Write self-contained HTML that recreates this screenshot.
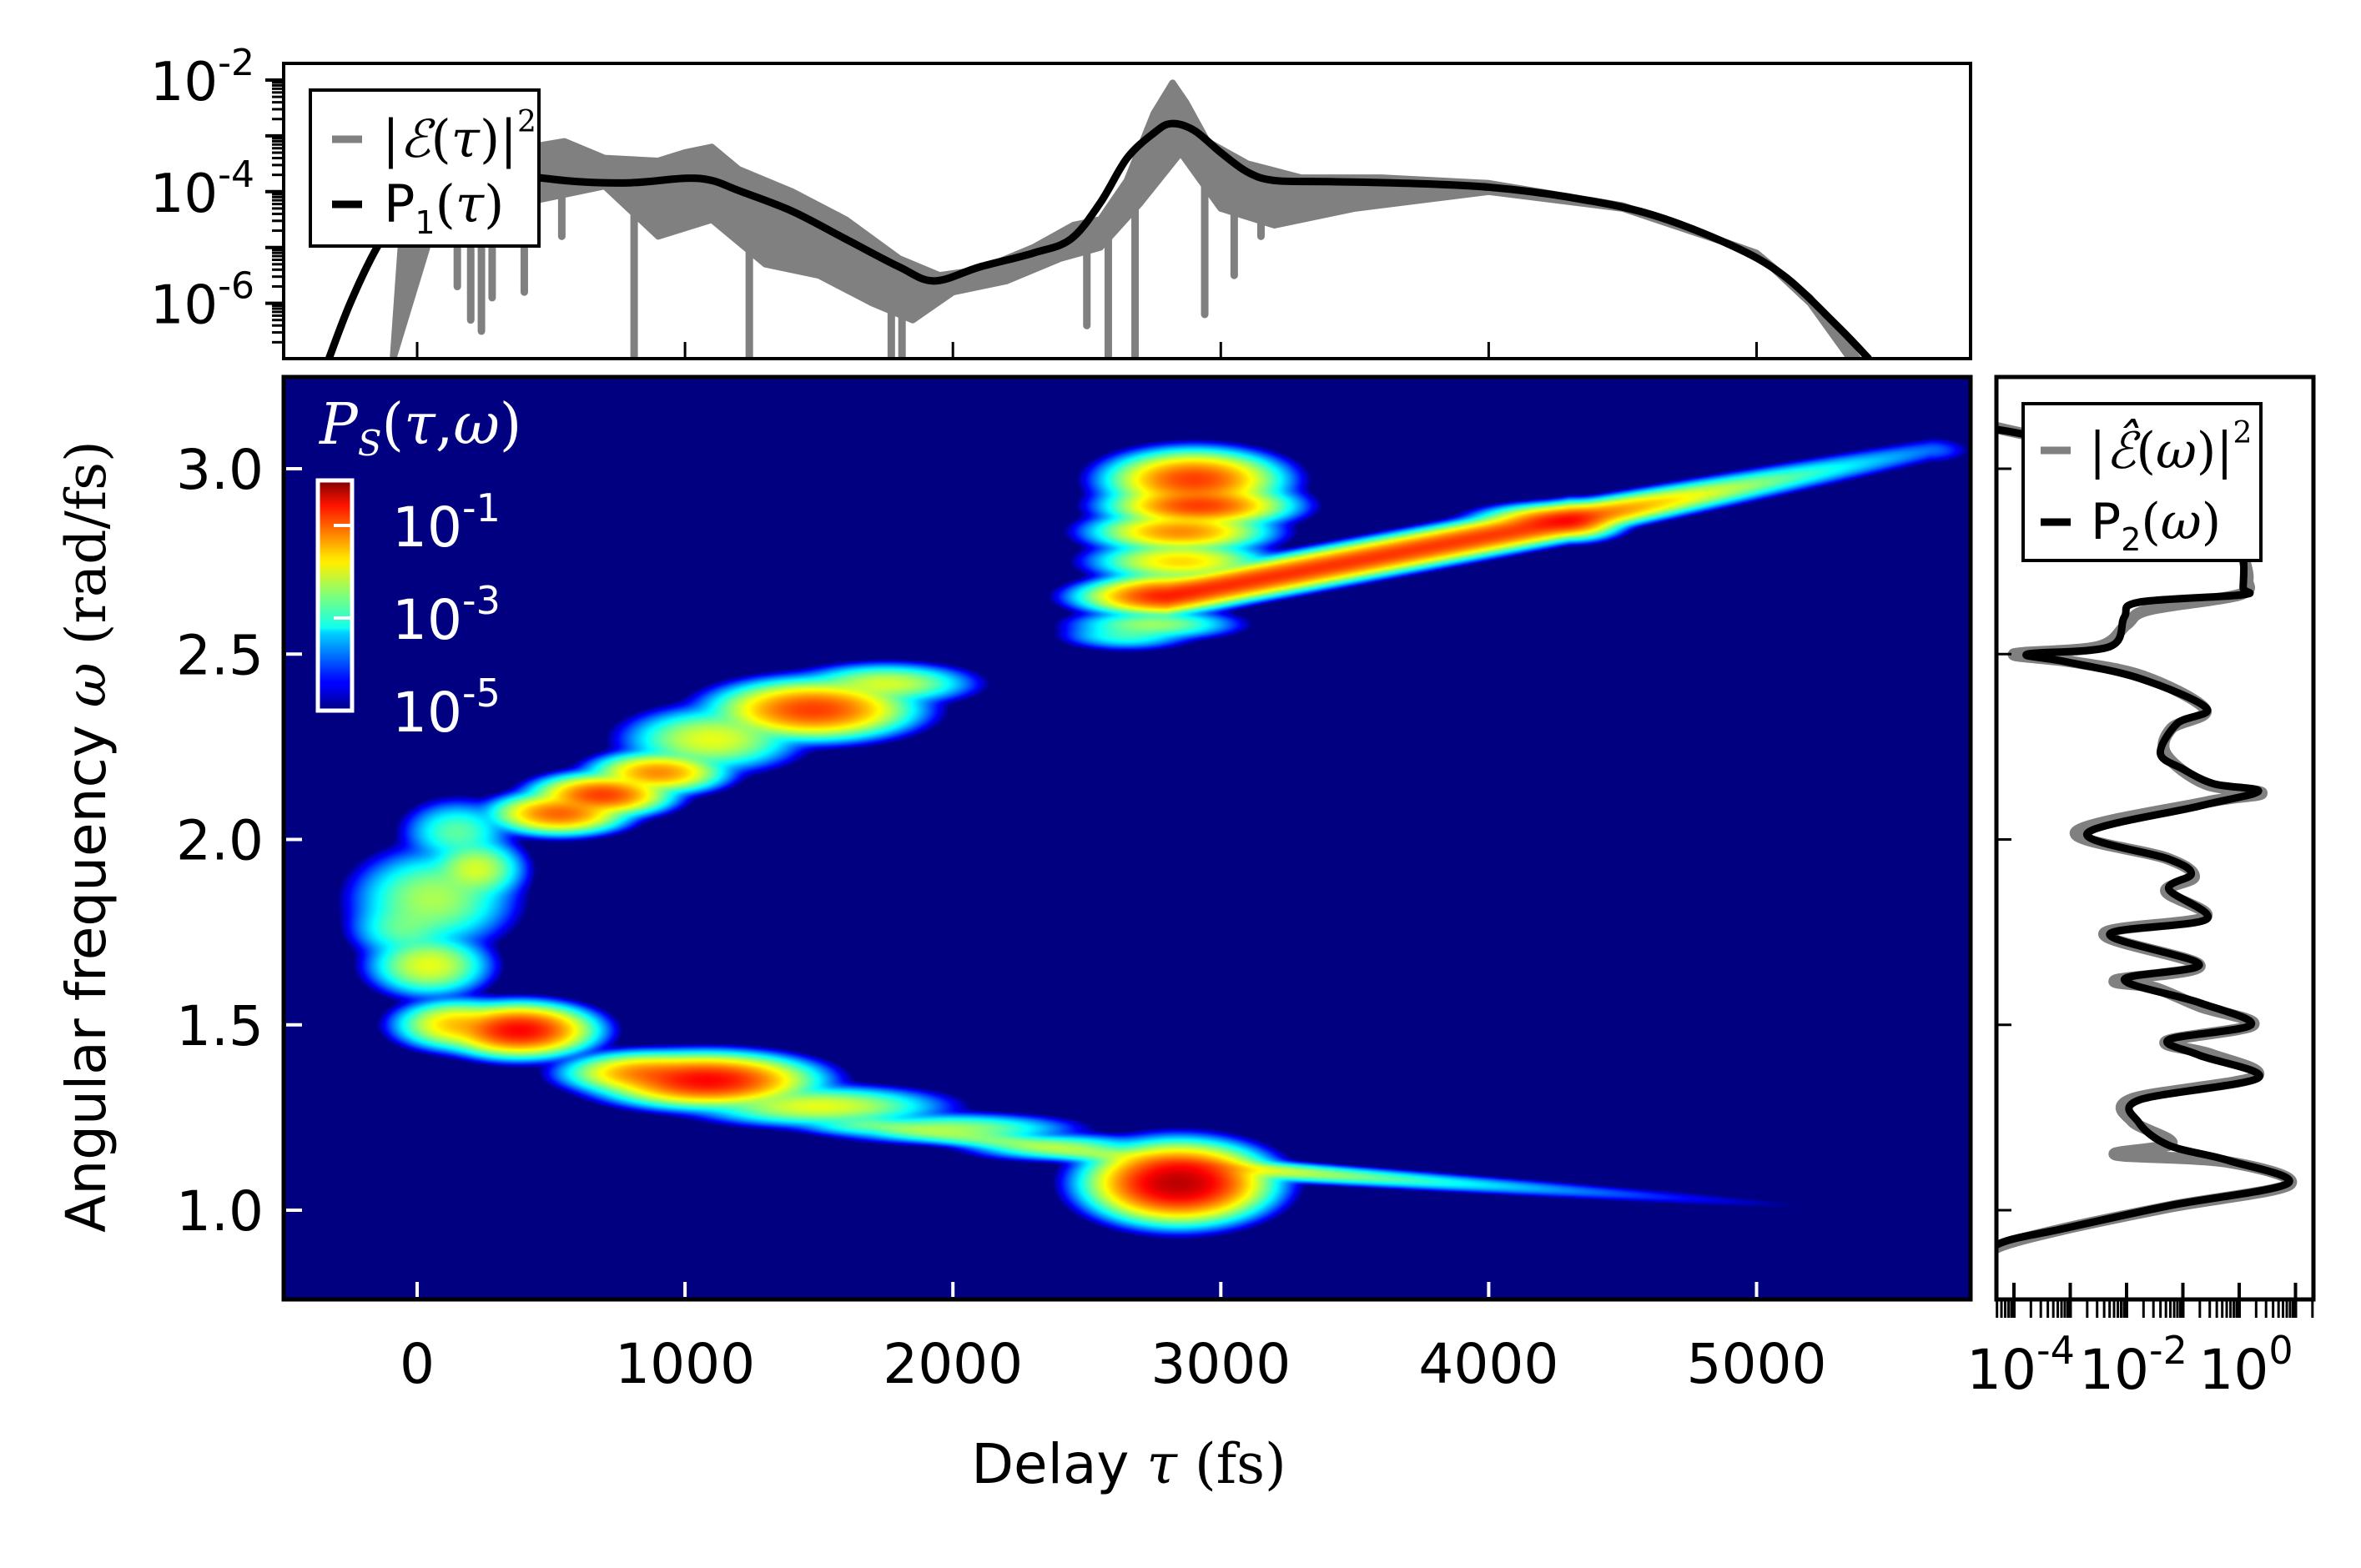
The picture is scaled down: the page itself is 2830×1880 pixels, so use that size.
<!DOCTYPE html>
<html><head><meta charset="utf-8">
<style>
html,body{margin:0;padding:0;background:#fff;width:2830px;height:1880px;overflow:hidden}
#wrap{position:relative;width:2830px;height:1880px}
svg{position:absolute;left:0;top:0}
canvas{position:absolute}
text{font-family:"DejaVu Sans","Liberation Sans",sans-serif}
.serif{font-family:"DejaVu Serif","Liberation Serif",serif}
</style></head>
<body>
<div id="wrap">
<canvas id="heat" width="1011" height="553" style="left:340px;top:452px;width:2022px;height:1106px"></canvas>
<svg id="svg" width="2830" height="1880"></svg>
</div>
<script>
// ---------- data ----------
const tauTicks=[0,1000,2000,3000,4000,5000];
const omegaTicks=[1.0,1.5,2.0,2.5,3.0];
const omegaTickLabels=["1.0","1.5","2.0","2.5","3.0"];
const topDecades=[-2,-4,-6];
const rightDecades=[-4,-2,0];
const cbarDecades=[-1,-3,-5];
// P1(tau): [tau, log10]
const p1Tau=[-330,-250,-150,-50,50,200,400,600,800,1000,1100,1200,1400,1600,1800,1930,2100,2300,2440,2550,2650,2750,2815,2900,3000,3100,3200,3400,3700,4000,4300,4600,4900,5100,5300,5420];
const p1Log=[-7,-6,-5,-4.3,-3.8,-3.62,-3.72,-3.82,-3.84,-3.76,-3.8,-3.98,-4.35,-4.85,-5.35,-5.6,-5.35,-5.1,-4.85,-4.2,-3.4,-2.95,-2.78,-2.9,-3.3,-3.65,-3.8,-3.82,-3.85,-3.92,-4.1,-4.4,-4.95,-5.5,-6.4,-7];
// |E(tau)|^2 envelope
const eUpTau=[-90,-40,100,300,550,700,900,1000,1100,1200,1400,1600,1800,1950,2100,2300,2450,2550,2650,2750,2820,2870,2950,3100,3300,3600,4000,4500,5000,5200,5380];
const eUpLog=[-7,-3.6,-3.4,-3.3,-3.1,-3.4,-3.45,-3.3,-3.2,-3.6,-4.0,-4.5,-5.2,-5.5,-5.4,-5.0,-4.6,-4.5,-3.8,-2.6,-2.05,-2.4,-3.1,-3.5,-3.75,-3.75,-3.85,-4.25,-5.1,-5.9,-7];
const eLoTau=[-90,100,300,500,700,900,1100,1300,1500,1700,1850,2000,2200,2400,2550,2700,2850,3000,3200,3500,4000,4500,5000,5200,5350];
const eLoLog=[-7,-4.0,-4.3,-4.1,-3.9,-4.8,-4.5,-5.3,-5.5,-6.0,-6.3,-5.8,-5.6,-5.2,-5.0,-4.2,-3.3,-4.3,-4.6,-4.3,-4.0,-4.3,-5.1,-6.0,-7];
const dipTau=[150,200,240,280,400,540,810,1240,1770,1810,2500,2580,2680,2940,3050,3150];
const dipLog=[-5.7,-6.3,-6.5,-5.9,-5.8,-4.8,-7.2,-7.2,-7.2,-7.2,-6.4,-7.2,-7.2,-6.2,-5.5,-4.8];
// P2(omega)
const p2Omega=[3.106,3.08,3.0,2.9,2.8,2.76,2.68,2.66,2.64,2.6,2.52,2.5,2.48,2.435,2.354,2.313,2.232,2.19,2.15,2.13,2.09,2.016,1.947,1.907,1.866,1.785,1.744,1.663,1.622,1.56,1.5,1.46,1.418,1.357,1.297,1.236,1.175,1.134,1.073,1.012,0.951,0.91,0.85];
const p2Log=[-4.3,-3.5,-2.0,-0.8,-0.1,0.07,0.07,0.05,-1.78,-2.04,-2.3,-3.76,-3.1,-1.78,-0.58,-1.1,-1.4,-1.0,-0.45,0.34,-0.71,-2.7,-1.25,-0.85,-1.25,-0.58,-2.3,-0.71,-2.04,-0.71,0.21,-1.25,-0.71,0.34,-1.78,-1.78,-1.25,-0.19,0.87,-1.25,-3.1,-4.26,-4.6];
const e2Omega=[3.11,3.07,3.0,2.9,2.8,2.75,2.7,2.66,2.62,2.58,2.52,2.5,2.48,2.44,2.35,2.3,2.23,2.15,2.125,2.1,2.02,1.95,1.9,1.86,1.79,1.745,1.66,1.62,1.6,1.55,1.5,1.455,1.42,1.36,1.3,1.24,1.18,1.15,1.13,1.07,1.01,0.95,0.9,0.85];
const e2Log=[-4.3,-3.2,-1.8,-0.6,0.0,0.1,0.15,0.0,-1.6,-2.0,-2.5,-4.0,-3.0,-1.7,-0.6,-1.2,-1.3,-0.6,0.4,-0.6,-2.9,-1.3,-0.8,-1.3,-0.6,-2.4,-0.7,-2.2,-1.5,-0.7,0.25,-1.3,-0.5,0.3,-1.9,-1.9,-1.2,-2.2,-0.2,0.9,-1.2,-3.1,-4.3,-4.6];
// spectrogram blobs: tau, omega, log10 peak, sigma tau, sigma omega
const blobTau=[2843,1084,850,382,150,45,60,220,530,690,900,1100,1480,1750,1500,2000,2400,2900,2920,2850,2850,2800,2750,2650,-50,150];
const blobOmega=[1.073,1.35,1.37,1.485,1.5,1.66,1.84,1.92,2.07,2.12,2.18,2.27,2.35,2.42,1.28,1.22,1.17,2.97,2.9,2.83,2.75,2.67,2.58,2.55,1.76,2.02];
const blobLog=[-0.15,-0.5,-1.2,-0.5,-1.5,-1.9,-2.2,-2.0,-1.0,-0.8,-1.2,-1.9,-0.8,-2.0,-1.9,-2.3,-2.5,-0.8,-0.8,-1.2,-1.6,-1.4,-2.3,-2.8,-2.6,-2.6];
const blobSt=[100,120,95,85,75,75,100,60,80,80,80,105,115,105,150,150,120,100,105,105,105,85,105,85,70,70];
const blobSo=[0.032,0.022,0.018,0.022,0.022,0.028,0.045,0.028,0.018,0.018,0.018,0.028,0.025,0.018,0.018,0.014,0.013,0.025,0.018,0.018,0.018,0.018,0.014,0.014,0.03,0.03];
// streaks: start tau, start omega, end tau, end omega, start log, end log, omega width
const stT0=[2800,4300,2900,1700];
const stW0=[2.655,2.86,1.12,1.23];
const stT1=[4300,5650,5500,2900];
const stW1=[2.86,3.05,0.995,1.12];
const stL0=[-0.7,-0.8,-1.5,-2.6];
const stL1=[-0.8,-3.8,-5.5,-2.2];
const stSig=[0.016,0.014,0.009,0.011];

// ---------- scales ----------
const X0=340,X1=2362,Y0=452,Y1=1558;
const tx=t=>500+t*0.3211;
const wy=w=>562+(3-w)*444.5;
const ty=l=>96+(-2-l)*66.9;
const rx=l=>2549+(l+2)*67.5;
const NS="http://www.w3.org/2000/svg";
const svg=document.getElementById('svg');
function mk(tag,attrs,parent){const e=document.createElementNS(NS,tag);for(const k in attrs)e.setAttribute(k,attrs[k]);(parent||svg).appendChild(e);return e;}
function smooth(p){let d='M'+p[0][0]+','+p[0][1];for(let i=0;i<p.length-1;i++){const a=p[Math.max(i-1,0)],b=p[i],c=p[i+1],e=p[Math.min(i+2,p.length-1)];d+=' C'+(b[0]+(c[0]-a[0])/6)+','+(b[1]+(c[1]-a[1])/6)+' '+(c[0]-(e[0]-b[0])/6)+','+(c[1]-(e[1]-b[1])/6)+' '+c[0]+','+c[1];}return d;}

// ---------- heatmap ----------
(function(){
const cv=document.getElementById('heat');const ctx=cv.getContext('2d');
const W=cv.width,H=cv.height;const img=ctx.createImageData(W,H);
function jet(v){const r=Math.min(Math.max(Math.min(4*v-1.5,-4*v+4.5),0),1);const g=Math.min(Math.max(Math.min(4*v-0.5,-4*v+3.5),0),1);const b=Math.min(Math.max(Math.min(4*v+0.5,-4*v+2.5),0),1);return [r*255,g*255,b*255];}
for(let j=0;j<H;j++){const w=3-((j*2+1)+Y0-562)/444.5;
for(let i=0;i<W;i++){const t=((i*2+1)+X0-500)/0.3211;let s=0;
for(let k=0;k<blobTau.length;k++){const dt=(t-blobTau[k])/blobSt[k],dw=(w-blobOmega[k])/blobSo[k];const q=0.5*(dt*dt+dw*dw);if(q<14)s+=Math.pow(10,blobLog[k])*Math.exp(-q);}
for(let k=0;k<stT0.length;k++){if(t<stT0[k]-800||t>stT1[k]+800)continue;let f=(t-stT0[k])/(stT1[k]-stT0[k]);const fc=Math.min(Math.max(f,0),1);const wc=stW0[k]+(stW1[k]-stW0[k])*fc;const lg=stL0[k]+(stL1[k]-stL0[k])*fc;const sg=stSig[k];const dw=(w-wc)/sg;let dtp=0;if(f<0)dtp=(t-stT0[k])/100;if(f>1)dtp=(t-stT1[k])/60;const q=0.5*(dw*dw+dtp*dtp);if(q<30)s+=Math.pow(10,lg)*Math.exp(-q);}
let v=(Math.log10(s+1e-12)+5)/5;v=Math.min(Math.max(v,0),1);if(s<1e-5)v=0;
const c=jet(v*0.97);const p=(j*W+i)*4;img.data[p]=c[0];img.data[p+1]=c[1];img.data[p+2]=c[2];img.data[p+3]=255;}}
ctx.putImageData(img,0,0);
})();

// ---------- top panel ----------
const ct=mk('clipPath',{id:'ctop'});mk('rect',{x:X0,y:76,width:X1-X0,height:354},ct);
const gTop=mk('g',{'clip-path':'url(#ctop)'});


let pts=eUpTau.map((t,i)=>tx(t)+','+ty(eUpLog[i]));
const lo=eLoTau.map((t,i)=>tx(t)+','+ty(eLoLog[i])).reverse();
const band=mk('polygon',{points:pts.concat(lo).join(' '),fill:'#808080',stroke:'#808080','stroke-width':8,'stroke-linejoin':'round'},gTop);


function interp(xs,ys,x){for(let i=1;i<xs.length;i++){if(x<=xs[i]){const f=(x-xs[i-1])/(xs[i]-xs[i-1]);return ys[i-1]+f*(ys[i]-ys[i-1]);}}return ys[ys.length-1];}
dipTau.forEach((t,i)=>{const d=mk('line',{x1:tx(t),x2:tx(t),y1:ty(interp(eLoTau,eLoLog,t)),y2:ty(dipLog[i]),stroke:'#808080','stroke-width':9,'stroke-linecap':'round'},gTop);

});
const p1=mk('path',{d:smooth(p1Tau.map((t,i)=>[tx(t),ty(p1Log[i])])),fill:'none',stroke:'#000','stroke-width':9,'stroke-linejoin':'round'},gTop);


const topFrame=mk('rect',{x:X0,y:76,width:X1-X0,height:354,fill:'none',stroke:'#000','stroke-width':4});


for(let d=-8;d<=-2;d++){for(let m=1;m<10;m++){const l=d+Math.log10(m);const y=ty(l);if(y<76||y>430)continue;mk('line',{x1:m==1?318:326,x2:340,y1:y,y2:y,stroke:'#000','stroke-width':m==1?4:3});}}
topDecades.forEach(d=>{const t=mk('text',{x:305,y:ty(d)+24,'font-size':64,'text-anchor':'end'});t.innerHTML='10<tspan dy="-30" font-size="44">'+d+'</tspan>';

});
tauTicks.forEach(t=>mk('line',{x1:tx(t),x2:tx(t),y1:430,y2:410,stroke:'#000','stroke-width':3}));
// top legend
const lg1=mk('g',{});


mk('rect',{x:372,y:108,width:274,height:187,fill:'#fff',stroke:'#000','stroke-width':4},lg1);
mk('line',{x1:398,x2:434,y1:167,y2:167,stroke:'#808080','stroke-width':9},lg1);
mk('line',{x1:398,x2:434,y1:245,y2:245,stroke:'#000','stroke-width':9},lg1);
let tt=mk('text',{x:458,y:188,'font-size':62,class:'serif'},lg1);tt.innerHTML='|<tspan font-style="italic">ℰ</tspan>(<tspan font-style="italic">τ</tspan>)|<tspan dy="-30" font-size="36">2</tspan>';
tt=mk('text',{x:460,y:266,'font-size':62},lg1);tt.innerHTML='P<tspan dy="14" font-size="38">1</tspan><tspan dy="-14" class="serif">(<tspan font-style="italic">τ</tspan>)</tspan>';

// ---------- main panel axes ----------
const mainFrame=mk('rect',{x:X0,y:Y0,width:X1-X0,height:Y1-Y0,fill:'none',stroke:'#000','stroke-width':5});


omegaTicks.forEach((w,i)=>{mk('line',{x1:343,x2:362,y1:wy(w),y2:wy(w),stroke:'#fff','stroke-width':4});
const t=mk('text',{x:316,y:wy(w)+24,'font-size':66,'text-anchor':'end'});t.textContent=omegaTickLabels[i];

});
tauTicks.forEach(t=>{mk('line',{x1:tx(t),x2:tx(t),y1:1555,y2:1537,stroke:'#fff','stroke-width':4});
const e=mk('text',{x:tx(t),y:1658,'font-size':66,'text-anchor':'middle'});e.textContent=t;

});
let xl=mk('text',{x:1353,y:1778,'font-size':66,'text-anchor':'middle'});xl.innerHTML='Delay <tspan class="serif" font-style="italic">τ</tspan> <tspan class="serif">(fs)</tspan>';


let yl=mk('text',{x:0,y:0,'font-size':66,'text-anchor':'middle',transform:'translate(126,1003) rotate(-90)'});yl.innerHTML='Angular frequency <tspan class="serif" font-style="italic">ω</tspan> <tspan class="serif">(rad/fs)</tspan>';


// colorbar
const defs=mk('defs',{});
const grad=mk('linearGradient',{id:'jet',x1:0,y1:1,x2:0,y2:0},defs);
[[0,'#00007f'],[0.11,'#0000ff'],[0.125,'#0000ff'],[0.34,'#00d4ff'],[0.36,'#0fffee'],[0.5,'#7dff7a'],[0.64,'#ffee00'],[0.66,'#ffe600'],[0.89,'#ff1300'],[1,'#800000']].forEach(s=>mk('stop',{offset:s[0],'stop-color':s[1]},grad));
const cb=mk('rect',{x:381,y:576,width:41,height:276,fill:'url(#jet)',stroke:'#fff','stroke-width':5});


cbarDecades.forEach(d=>{const y=852-(d+5)*55.5;mk('line',{x1:400,x2:420,y1:y,y2:y,stroke:'#fff','stroke-width':4});
const t=mk('text',{x:470,y:y+25,'font-size':66,fill:'#fff'});t.innerHTML='10<tspan dy="-30" font-size="46">'+d+'</tspan>';

});
let cbt=mk('text',{x:383,y:532,'font-size':68,fill:'#fff',class:'serif'});cbt.innerHTML='<tspan font-style="italic">P</tspan><tspan dy="14" font-size="42" font-style="italic">S</tspan><tspan dy="-14">(<tspan font-style="italic">τ</tspan>,<tspan font-style="italic">ω</tspan>)</tspan>';



// ---------- right panel ----------
const RX0=2393,RX1=2773;
const cr=mk('clipPath',{id:'cright'});mk('rect',{x:RX0,y:Y0,width:RX1-RX0,height:Y1-Y0},cr);
const gR=mk('g',{'clip-path':'url(#cright)'});


const e2=mk('path',{d:smooth(e2Omega.map((w,i)=>[rx(e2Log[i]),wy(w)])),fill:'none',stroke:'#808080','stroke-width':14,'stroke-linejoin':'round'},gR);


const p2=mk('path',{d:smooth(p2Omega.map((w,i)=>[rx(p2Log[i]),wy(w)])),fill:'none',stroke:'#000','stroke-width':9,'stroke-linejoin':'round'},gR);


const rFrame=mk('rect',{x:RX0,y:Y0,width:RX1-RX0,height:Y1-Y0,fill:'none',stroke:'#000','stroke-width':5});


omegaTicks.forEach(w=>mk('line',{x1:RX0,x2:RX0+18,y1:wy(w),y2:wy(w),stroke:'#000','stroke-width':3}));
for(let d=-5;d<=1;d++){for(let m=1;m<10;m++){const l=d+Math.log10(m);const x=rx(l);if(x<RX0||x>RX1)continue;if(m==1)mk('line',{x1:x,x2:x,y1:Y1,y2:Y1-20,stroke:'#000','stroke-width':4});mk('line',{x1:x,x2:x,y1:Y1,y2:Y1+22,stroke:'#000','stroke-width':m==1?4:3});}}
rightDecades.forEach(d=>{const t=mk('text',{x:rx(d)+8,y:1665,'font-size':66,'text-anchor':'middle'});t.innerHTML='10<tspan dy="-30" font-size="46">'+d+'</tspan>';

});
const lg2=mk('g',{});


mk('rect',{x:2425,y:484,width:285,height:188,fill:'#fff',stroke:'#000','stroke-width':4},lg2);
mk('line',{x1:2446,x2:2482,y1:540,y2:540,stroke:'#808080','stroke-width':9},lg2);
mk('line',{x1:2446,x2:2482,y1:626,y2:626,stroke:'#000','stroke-width':9},lg2);
tt=mk('text',{x:2504,y:561,'font-size':60,class:'serif'},lg2);tt.innerHTML='|<tspan font-style="italic">ℰ̂</tspan>(<tspan font-style="italic">ω</tspan>)|<tspan dy="-30" font-size="36">2</tspan>';
tt=mk('text',{x:2506,y:646,'font-size':60},lg2);tt.innerHTML='P<tspan dy="14" font-size="38">2</tspan><tspan dy="-14" class="serif">(<tspan font-style="italic">ω</tspan>)</tspan>';
</script>
</body></html>
